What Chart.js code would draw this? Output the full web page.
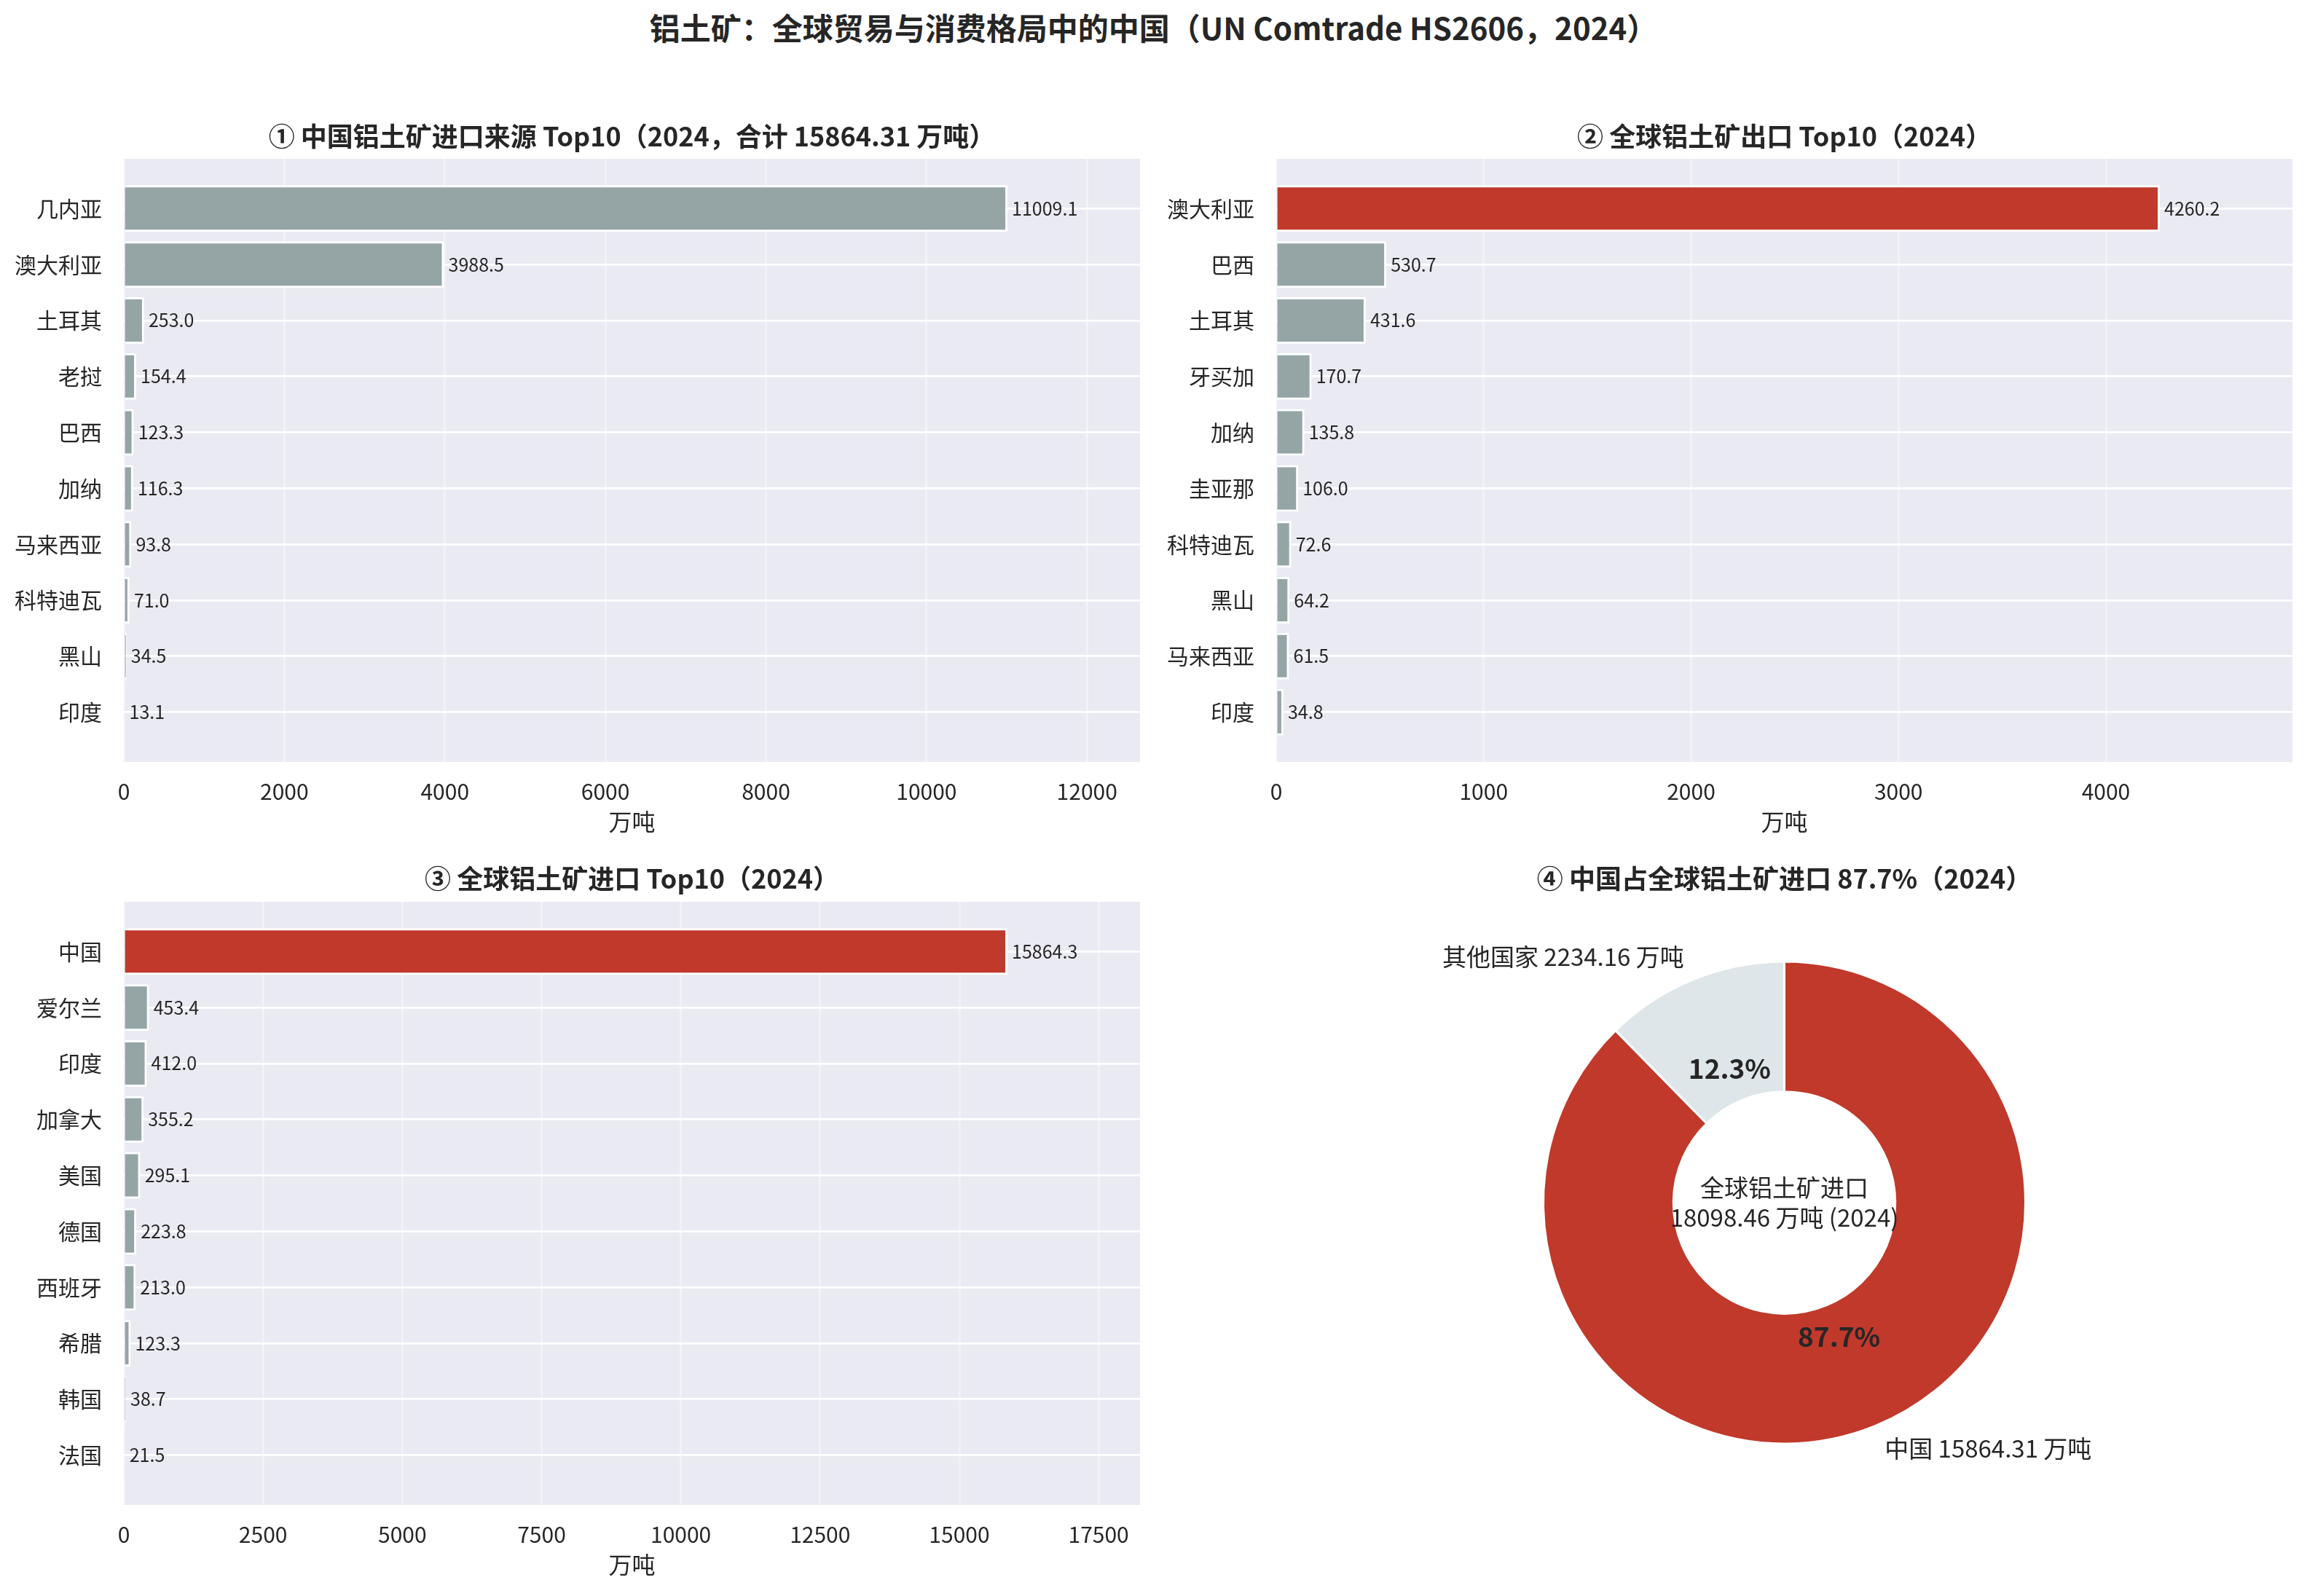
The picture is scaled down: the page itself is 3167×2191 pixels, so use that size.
<!DOCTYPE html>
<html lang="zh-CN">
<head>
<meta charset="utf-8">
<title>铝土矿：全球贸易与消费格局中的中国</title>
<script src="https://cdn.jsdelivr.net/npm/chart.js@4.4.1/dist/chart.umd.min.js"></script>
<style>
    html, body { margin: 0; padding: 0; background: #fff; }
    body {
        width: 3167px; height: 2191px; position: relative; overflow: hidden;
        font-family: 'Noto Sans CJK SC', sans-serif; color: #262626;
    }
    #main-title {
        position: absolute; left: 0; top: 12px; width: 3167px;
        text-align: center; font-weight: bold; font-size: 42px; line-height: 50px;
    }
    canvas { position: absolute; }
</style>
</head>
<body>
<div id="main-title">铝土矿：全球贸易与消费格局中的中国（UN Comtrade HS2606，2024）</div>
<canvas id="c-src"   width="1600" height="1030" style="left:0;top:140px"></canvas>
<canvas id="c-exp"   width="1587" height="1030" style="left:1580px;top:140px"></canvas>
<canvas id="c-imp"   width="1600" height="1030" style="left:0;top:1160px"></canvas>
<canvas id="c-share" width="1395" height="1040" style="left:1752px;top:1150px"></canvas>
<script>
/* 铝土矿 HS2606 — 四联图 */
/* global Chart */

(function () {
    'use strict';

    // =========================================================
    // 数据（万吨）
    // =========================================================
    var srcCountries = ['几内亚', '澳大利亚', '土耳其', '老挝', '巴西', '加纳', '马来西亚', '科特迪瓦', '黑山', '印度'];
    var srcValues    = [11009.1, 3988.5, 253.0, 154.4, 123.3, 116.3, 93.8, 71.0, 34.5, 13.1];
    var srcTicks     = [0, 2000, 4000, 6000, 8000, 10000, 12000];

    var expCountries = ['澳大利亚', '巴西', '土耳其', '牙买加', '加纳', '圭亚那', '科特迪瓦', '黑山', '马来西亚', '印度'];
    var expValues    = [4260.2, 530.7, 431.6, 170.7, 135.8, 106.0, 72.6, 64.2, 61.5, 34.8];
    var expTicks     = [0, 1000, 2000, 3000, 4000];

    var impCountries = ['中国', '爱尔兰', '印度', '加拿大', '美国', '德国', '西班牙', '希腊', '韩国', '法国'];
    var impValues    = [15864.3, 453.4, 412.0, 355.2, 295.1, 223.8, 213.0, 123.3, 38.7, 21.5];
    var impTicks     = [0, 2500, 5000, 7500, 10000, 12500, 15000, 17500];

    var shareLabels = ['中国', '其他国家'];
    var shareValues = [15864.31, 2234.16];
    var shareTotal  = 18098.46;

    var FONT  = "'Noto Sans CJK SC', 'Noto Sans', sans-serif";
    var TEXT  = '#262626';
    var RED   = '#C0392B';
    var GRAY  = '#95A5A6';
    var LIGHT = '#DFE6E9';

    // =========================================================
    // 插件
    // =========================================================
    // 绘图区底色（seaborn darkgrid）
    var plotBg = {
        id: 'plotBg',
        beforeDraw: function (chart) {
            var a = chart.chartArea, ctx = chart.ctx;
            ctx.save();
            ctx.fillStyle = '#EAEAF2';
            ctx.fillRect(a.left, a.top, a.right - a.left, a.bottom - a.top);
            ctx.restore();
        }
    };

    // 条形末端数值
    var valueLabels = {
        id: 'valueLabels',
        afterDatasetsDraw: function (chart, args, opts) {
            var ctx  = chart.ctx;
            var xs   = chart.scales.x;
            var gap  = xs.getPixelForValue(opts.gap) - xs.getPixelForValue(0);
            var meta = chart.getDatasetMeta(0);
            var vals = chart.data.datasets[0].data;
            ctx.save();
            ctx.font = '25px ' + FONT;
            ctx.fillStyle = TEXT;
            ctx.textAlign = 'left';
            ctx.textBaseline = 'middle';
            meta.data.forEach(function (bar, i) {
                ctx.fillText(vals[i].x.toFixed(1), bar.x + gap, bar.y);
            });
            ctx.restore();
        }
    };

    // 环形图标签
    var shareText = {
        id: 'shareText',
        afterDatasetsDraw: function (chart) {
            var ctx  = chart.ctx;
            var meta = chart.getDatasetMeta(0);
            var cx = 0, cy = 0;
            ctx.save();
            ctx.fillStyle = TEXT;
            ctx.textBaseline = 'middle';
            meta.data.forEach(function (arc, i) {
                var mid = (arc.startAngle + arc.endAngle) / 2;
                var r   = arc.outerRadius;
                var c   = Math.cos(mid), s = Math.sin(mid);
                cx = arc.x; cy = arc.y;

                ctx.font = '33px ' + FONT;
                ctx.textAlign = c > 0 ? 'left' : 'right';
                ctx.fillText(shareLabels[i] + ' ' + shareValues[i].toFixed(2) + ' 万吨',
                    cx + c * r * 1.1, cy + s * r * 1.1);

                ctx.font = 'bold 37px ' + FONT;
                ctx.textAlign = 'center';
                ctx.fillText((shareValues[i] / shareTotal * 100).toFixed(1) + '%',
                    cx + c * r * 0.6, cy + s * r * 0.6);
            });
            ctx.font = '33px ' + FONT;
            ctx.textAlign = 'center';
            ctx.fillText('全球铝土矿进口', cx, cy - 21);
            ctx.fillText(shareTotal.toFixed(2) + ' 万吨 (2024)', cx, cy + 20);
            ctx.restore();
        }
    };

    // =========================================================
    // 横向条形图
    // =========================================================
    function barChart(id, countries, values, ticks, highlight, title, yWidth, padRight, titleTop) {
        var vmax   = Math.max.apply(null, values);
        var colors = values.map(function (v, i) { return i === highlight ? RED : GRAY; });

        new Chart(document.getElementById(id), {
            type: 'bar',
            data: {
                datasets: [{
                    data: values.map(function (v, i) { return { x: v, y: i }; }),
                    backgroundColor:    colors,
                    borderColor:        '#ffffff',
                    borderWidth:        3,
                    barPercentage:      0.833,
                    categoryPercentage: 1,
                }],
            },
            options: {
                indexAxis: 'y',
                responsive: false,
                animation: false,
                devicePixelRatio: 1,
                layout: { padding: { left: 0, right: padRight, top: 0, bottom: 0 } },
                plugins: {
                    legend:  { display: false },
                    tooltip: { enabled: false },
                    title: {
                        display: true,
                        text: title,
                        fullSize: false,
                        color: TEXT,
                        font: { family: FONT, size: 36, weight: 'bold', lineHeight: 1.2 },
                        padding: { top: titleTop, bottom: 78 - titleTop - 43.2 },
                    },
                    valueLabels: { gap: vmax * 0.005 },
                },
                scales: {
                    x: {
                        type: 'linear',
                        min: 0,
                        max: vmax * 1.15,
                        afterBuildTicks: function (a) { a.ticks = ticks.map(function (v) { return { value: v }; }); },
                        afterFit: function (a) { a.height = 124; },
                        grid:   { color: 'rgba(255,255,255,0.4)', lineWidth: 2.8, drawTicks: false },
                        border: { display: false },
                        ticks: {
                            padding: 23,
                            color: TEXT,
                            font: { family: FONT, size: 30 },
                            callback: function (v) { return String(v); },
                        },
                        title: {
                            display: true,
                            text: '万吨',
                            color: TEXT,
                            font: { family: FONT, size: 32, lineHeight: 1.2 },
                            padding: { top: 0, bottom: 22.8 },
                        },
                    },
                    y: {
                        type: 'linear',
                        reverse: true,
                        offset: false,
                        min: -0.89,
                        max: countries.length - 1 + 0.89,
                        afterBuildTicks: function (a) { a.ticks = countries.map(function (c, i) { return { value: i }; }); },
                        afterFit: function (a) { a.width = yWidth; },
                        grid:   { color: '#ffffff', lineWidth: 2.8, drawTicks: false, offset: false },
                        border: { display: false },
                        ticks: {
                            padding: 30,
                            autoSkip: false,
                            color: TEXT,
                            font: { family: FONT, size: 30 },
                            callback: function (v) { return countries[v]; },
                        },
                    },
                },
            },
            plugins: [plotBg, valueLabels],
        });
    }

    barChart('c-src', srcCountries, srcValues, srcTicks, -1,
        '① 中国铝土矿进口来源 Top10（2024，合计 15864.31 万吨）', 170, 35, 25.4);
    barChart('c-exp', expCountries, expValues, expTicks, 0,
        '② 全球铝土矿出口 Top10（2024）', 172, 20, 25.4);
    barChart('c-imp', impCountries, impValues, impTicks, 0,
        '③ 全球铝土矿进口 Top10（2024）', 170, 35, 24.4);

    // =========================================================
    // 环形图 — 中国占比
    // =========================================================
    new Chart(document.getElementById('c-share'), {
        type: 'doughnut',
        data: {
            labels: shareLabels,
            datasets: [{
                data:            shareValues,
                backgroundColor: [RED, LIGHT],
                borderColor:     '#ffffff',
                borderWidth:     3,
            }],
        },
        options: {
            responsive: false,
            animation: false,
            devicePixelRatio: 1,
            radius: 331,
            cutout: '46%',
            layout: { padding: { left: 0, right: 0, top: 0, bottom: 125.6 } },
            plugins: {
                legend:  { display: false },
                tooltip: { enabled: false },
                title: {
                    display: true,
                    text: '④ 中国占全球铝土矿进口 87.7%（2024）',
                    fullSize: false,
                    color: TEXT,
                    font: { family: FONT, size: 36, weight: 'bold', lineHeight: 1.2 },
                    padding: { top: 34.4, bottom: 10 },
                },
            },
        },
        plugins: [shareText],
    });
}());
</script>
</body>
</html>
